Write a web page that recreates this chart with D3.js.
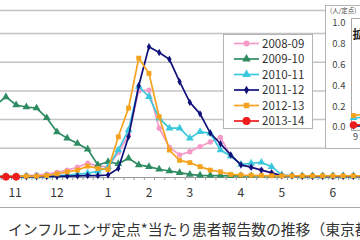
<!DOCTYPE html>
<html>
<head>
<meta charset="utf-8">
<script src="https://cdn.jsdelivr.net/npm/d3@7"></script>
<style>
  body { margin: 0; background: #fff; }
  svg { display: block; font-family: 'Noto Sans CJK JP', 'Noto Sans', sans-serif; }
</style>
</head>
<body>
<svg id="chart" width="360" height="240"></svg>
<script>
// week index -1 .. 35 (week 0 = first visible point)
const weeks = d3.range(-1, 36)

const seasons = ['2008-09', '2009-10', '2010-11', '2011-12', '2012-13', '2013-14']

const s0809 = [0.3, 0.3, 0.4, 0.5, 0.7, 1.0, 1.6, 2.4, 3.4, 4.8, 3.8, 3.5, 8.5, 14.6, 30.0, 30.3, 17.0, 10.3, 7.7,
  8.8, 10.6, 12.2, 13.8, 7.3, 4.5, 3.5, 2.4, 1.4, 0.7, 0.5, 0.4, 0.4, 0.3, 0.3, 0.3, 0.3, 0.3]
const s0910 = [25.1, 27.9, 25.1, 24.4, 24.0, 20.6, 15.7, 13.5, 11.7, 9.7, 4.2, 5.3, 4.6, 6.5, 4.2, 3.6, 2.7, 2.1, 1.5,
  0.9, 0.6, 0.5, 0.5, 0.4, 0.4, 0.4, 0.4, 0.4, 0.4, 0.4, 0.4, 0.4, 0.4, 0.4, 0.4, 0.4, 0.4]
const s1011 = [0.3, 0.3, 0.3, 0.3, 0.3, 0.3, 0.5, 0.7, 1.0, 1.3, 2.0, 3.5, 9.4, 16.4, 31.5, 28.0, 20.5, 17.0, 17.0,
  13.5, 15.8, 15.2, 9.4, 7.3, 4.4, 4.8, 5.1, 3.6, 0.7, 0.4, 0.3, 0.3, 0.3, 0.3, 0.3, 0.3, 0.3]
const s1112 = [0.1, 0.1, 0.1, 0.1, 0.1, 0.2, 0.2, 0.3, 0.4, 0.5, 0.5, 0.7, 3.0, 14.0, 31.8, 45.4, 43.4, 41.0, 33.2,
  26.0, 22.0, 15.3, 11.6, 7.7, 4.2, 3.4, 2.4, 1.5, 0.4, 0.3, 0.2, 0.2, 0.2, 0.2, 0.2, 0.2, 0.2]
const s1213 = [0.2, 0.2, 0.3, 0.3, 0.3, 0.5, 1.1, 1.8, 2.4, 3.8, 3.0, 2.6, 14.0, 24.0, 41.4, 36.1, 21.0, 9.4, 5.8,
  5.0, 3.6, 2.4, 1.8, 0.9, 0.7, 0.6, 0.5, 0.4, 0.4, 0.4, 0.4, 0.4, 0.4, 0.4, 0.4, 0.4, 0.4]
const s1314 = [0.05, 0.05, 0.05]

const seriesValues = [s0809, s0910, s1011, s1112, s1213, s1314]
const colors = ['#f59ac8', '#2e8b62', '#3cc8dc', '#10107a', '#f5a31e', '#ee1c1c']
const symbols = [d3.symbolCircle, d3.symbolTriangle, d3.symbolTriangle, d3.symbolDiamond, d3.symbolSquare, d3.symbolCircle]
const symbolSizes = [22, 26, 26, 16, 24, 45]

const monthLabels = ['11', '12', '1', '2', '3', '4', '5', '6']
const monthWeeks = [0.9, 5, 10, 14, 18, 23, 27, 32]
const gridValues = [10, 20, 30, 40, 50]

// enlarged panel (top right)
const insetTicks = [0, 0.2, 0.4, 0.6, 0.8, 1.0]
const insetSeasons = ['2010-11', '2011-12', '2012-13', '2013-14']
const insetValues = [[0.09, 0.09], [0.01, 0.01], [0.11, 0.12], [0.02, 0.02]]

const svg = d3.select('#chart')

const x = d3.scaleLinear().domain([0, 32]).range([5.9, 332.9])
const y = d3.scaleLinear().domain([0, 50]).range([177, 33.5])

// frame + grid
svg.append('line')
  .attr('x1', 0).attr('x2', 326).attr('y1', 10.5).attr('y2', 10.5)
  .attr('stroke', '#c4c4c4').attr('stroke-width', 1.5)

svg.selectAll('.grid')
  .data(gridValues)
  .enter()
  .append('line')
  .attr('class', 'grid')
  .attr('x1', 0).attr('x2', 326)
  .attr('y1', d => y(d)).attr('y2', d => y(d))
  .attr('stroke', '#c4c4c4').attr('stroke-width', 1.5)

// category axis
const xAxis = d3.axisBottom(x)
  .tickValues(d3.range(-0.5, 35, 1))
  .tickSize(3)
  .tickFormat('')
const axisG = svg.append('g')
  .attr('transform', 'translate(0,' + y(0) + ')')
  .call(xAxis)
axisG.select('.domain').attr('d', 'M0,0.5H360').attr('stroke', '#999')
axisG.selectAll('.tick line').attr('stroke', '#999')

svg.selectAll('.month')
  .data(monthLabels)
  .enter()
  .append('text')
  .attr('class', 'month')
  .attr('x', (d, i) => x(monthWeeks[i]))
  .attr('y', 197)
  .attr('text-anchor', 'middle')
  .attr('font-size', 12)
  .attr('fill', '#333')
  .text(d => d)

// series
const line = d3.line()
  .x((d, i) => x(weeks[i]))
  .y(d => y(d))

seriesValues.forEach(function (vals, k) {
  const g = svg.append('g')
  g.append('path')
    .datum(vals)
    .attr('d', line)
    .attr('fill', 'none')
    .attr('stroke', colors[k])
    .attr('stroke-width', 1.7)
  g.selectAll('path.mk')
    .data(vals)
    .enter()
    .append('path')
    .attr('class', 'mk')
    .attr('transform', (d, i) => 'translate(' + x(weeks[i]) + ',' + y(d) + ')')
    .attr('d', d3.symbol().type(symbols[k]).size(symbolSizes[k]))
    .attr('fill', colors[k])
})

// legend
const legend = svg.append('g')
legend.append('rect')
  .attr('x', 223.5).attr('y', 34.5).attr('width', 89).attr('height', 94)
  .attr('fill', '#fff').attr('stroke', '#b4b4b4')
const item = legend.selectAll('.item')
  .data(seasons)
  .enter()
  .append('g')
  .attr('class', 'item')
  .attr('transform', (d, i) => 'translate(0,' + (43.5 + i * 15.5) + ')')
item.append('line')
  .attr('x1', 234).attr('x2', 259)
  .attr('stroke', (d, i) => colors[i]).attr('stroke-width', 1.7)
item.append('path')
  .attr('transform', 'translate(246.5,0)')
  .attr('d', (d, i) => d3.symbol().type(symbols[i]).size(symbolSizes[i] + 6)())
  .attr('fill', (d, i) => colors[i])
item.append('text')
  .attr('x', 262).attr('dy', '0.36em')
  .attr('font-size', 11.5)
  .attr('fill', '#333')
  .text(d => d)

// enlarged panel
const iy = d3.scaleLinear().domain([0, 1]).range([127, 23])
const ix = d3.scaleLinear().domain([0, 1]).range([353.5, 360.5])
const inset = svg.append('g')
inset.append('rect')
  .attr('x', 325.5).attr('y', 5.5).attr('width', 40).attr('height', 143)
  .attr('fill', '#fff').attr('stroke', '#b4b4b4')
inset.append('rect')
  .attr('x', 351.5).attr('y', 18.5).attr('width', 20).attr('height', 112)
  .attr('fill', 'none').attr('stroke', '#aaa')
inset.append('text')
  .attr('x', 330).attr('y', 13)
  .attr('font-size', 6.5).attr('fill', '#444')
  .text('(人/定点)')
inset.selectAll('.itick')
  .data(insetTicks)
  .enter()
  .append('text')
  .attr('class', 'itick')
  .attr('x', 345.5).attr('y', d => iy(d)).attr('dy', '0.36em')
  .attr('text-anchor', 'end')
  .attr('font-size', 9.5).attr('fill', '#444')
  .text(d => d3.format('.1f')(d))
inset.append('text')
  .attr('x', 352.5).attr('y', 39)
  .attr('font-size', 12).attr('font-weight', 'bold').attr('fill', '#222')
  .text('拡大')
inset.append('text')
  .attr('x', 355.5).attr('y', 140)
  .attr('text-anchor', 'middle')
  .attr('font-size', 9).attr('fill', '#444')
  .text('9')
insetValues.forEach(function (vals, k) {
  const c = seasons.indexOf(insetSeasons[k])
  inset.append('path')
    .datum(vals)
    .attr('d', d3.line().x((d, i) => ix(i)).y(d => iy(d)))
    .attr('fill', 'none').attr('stroke', colors[c]).attr('stroke-width', 1.7)
  inset.append('path')
    .attr('transform', 'translate(' + ix(0) + ',' + iy(vals[0]) + ')')
    .attr('d', d3.symbol().type(symbols[c]).size(symbolSizes[c]))
    .attr('fill', colors[c])
})

// bottom frame + caption
svg.append('line')
  .attr('x1', 0).attr('x2', 360).attr('y1', 207.5).attr('y2', 207.5)
  .attr('stroke', '#aaa')
svg.append('text')
  .attr('x', 8).attr('y', 235)
  .attr('font-size', 14.8).attr('fill', '#333')
  .text('インフルエンザ定点*当たり患者報告数の推移（東京都）')
</script>
</body>
</html>
